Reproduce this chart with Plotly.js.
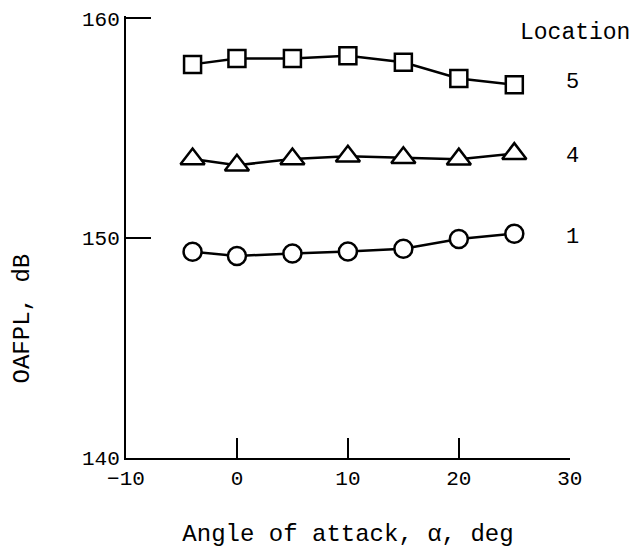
<!DOCTYPE html>
<html>
<head>
<meta charset="utf-8">
<script src="https://cdn.plot.ly/plotly-3.0.1.min.js"></script>
<style>html,body{margin:0;padding:0;background:#fff;}#chart{width:634px;height:552px;}</style>
</head>
<body>
<div id="chart"></div>
<script>
// Angle of attack, deg
const alpha = [-4, 0, 5, 10, 15, 20, 25];
// OAFPL, dB by measurement location
const location1 = [149.38, 149.19, 149.30, 149.39, 149.52, 149.96, 150.20];
const location4 = [153.60, 153.31, 153.60, 153.72, 153.65, 153.59, 153.84];
const location5 = [157.90, 158.17, 158.17, 158.29, 158.00, 157.26, 156.97];
const seriesNames = ['1', '4', '5'];
const xTicks = [-10, 0, 10, 20, 30];
const yTicks = [140, 150, 160];

const FONT = 'Liberation Mono, Courier New, monospace';
const lineStyle = {color: '#000', width: 2.5};

function trace(y, name, symbol, size) {
  return {
    x: alpha, y: y, name: name, type: 'scatter', mode: 'lines+markers',
    line: lineStyle,
    marker: {symbol: symbol, size: size, color: '#fff', line: {color: '#000', width: 2.5}},
    showlegend: false, cliponaxis: false
  };
}

const data = [
  trace(location1, seriesNames[0], 'circle', 18),
  trace(location4, seriesNames[1], 'triangle-up', 21),
  trace(location5, seriesNames[2], 'square', 17)
];

const layout = {
  width: 634, height: 552,
  margin: {l: 126, r: 64, t: 16, b: 94},
  paper_bgcolor: '#fff', plot_bgcolor: '#fff',
  font: {family: FONT, color: '#000', size: 20},
  xaxis: {
    range: [-10, 30.02], tickvals: xTicks, ticktext: xTicks.map(v => v < 0 ? '\u2212' + Math.abs(v) : String(v)),
    showgrid: false, zeroline: false, showline: true, linecolor: '#000', linewidth: 2,
    ticks: 'inside', ticklen: 20, tickwidth: 2.5, tickcolor: '#000',
    tickfont: {family: FONT, size: 21, color: '#000'},
    title: {text: 'Angle of attack, \u03b1, deg', font: {family: FONT, size: 24, color: '#000'}, standoff: 34}
  },
  yaxis: {
    range: [140, 160.1], tickvals: yTicks, ticktext: yTicks.map(String),
    showgrid: false, zeroline: false, showline: true, linecolor: '#000', linewidth: 2,
    ticks: 'inside', ticklen: 25, tickwidth: 2, tickcolor: '#000',
    tickfont: {family: FONT, size: 21, color: '#000'},
    title: {text: ''}
  },
  annotations: [
    {xref: 'paper', yref: 'paper', x: -0.234, y: 0.316, xanchor: 'center', yanchor: 'middle', textangle: -90,
     text: 'OAFPL, dB', showarrow: false, font: {family: FONT, size: 24, color: '#000'}},
    {xref: 'paper', yref: 'paper', x: 1.011, y: 0.962, xanchor: 'center', yanchor: 'middle', text: 'Location', showarrow: false, font: {family: FONT, size: 23, color: '#000'}},
    {xref: 'paper', yref: 'paper', x: 1.005, y: 0.850, xanchor: 'center', yanchor: 'middle', text: seriesNames[2], showarrow: false, font: {family: FONT, size: 22, color: '#000'}},
    {xref: 'paper', yref: 'paper', x: 1.005, y: 0.682, xanchor: 'center', yanchor: 'middle', text: seriesNames[1], showarrow: false, font: {family: FONT, size: 22, color: '#000'}},
    {xref: 'paper', yref: 'paper', x: 1.005, y: 0.498, xanchor: 'center', yanchor: 'middle', text: seriesNames[0], showarrow: false, font: {family: FONT, size: 22, color: '#000'}}
  ]
};

Plotly.newPlot('chart', data, layout, {displayModeBar: false, staticPlot: true});
</script>
</body>
</html>
